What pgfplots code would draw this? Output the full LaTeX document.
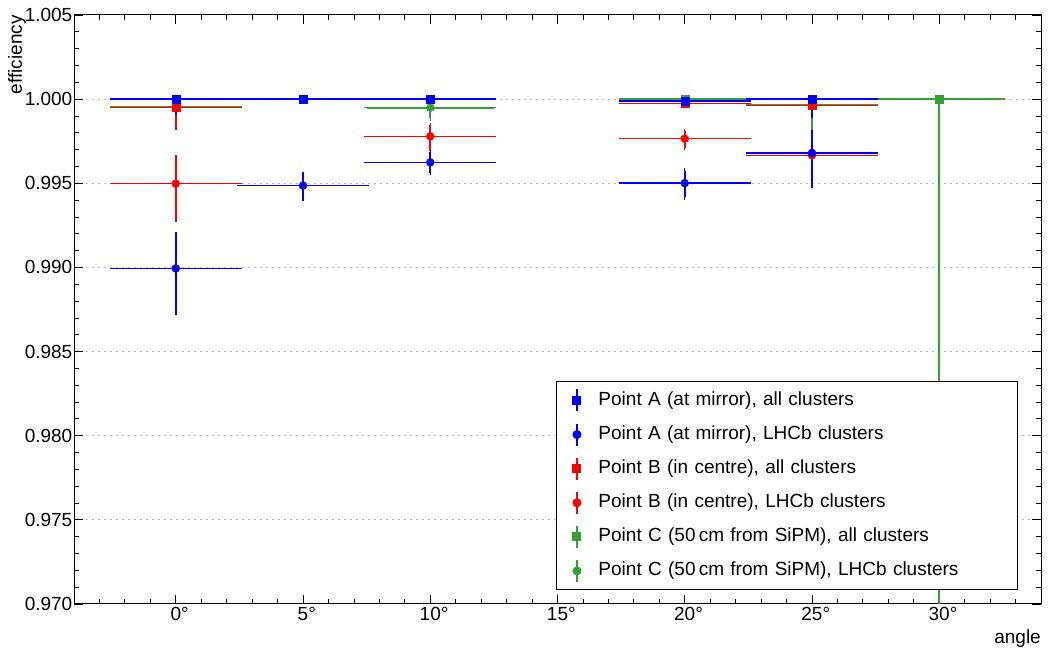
\documentclass[border=0pt]{standalone}
\usepackage{pgfplots}
\usepackage{pgfplotstable}
\pgfplotsset{compat=1.18}
\usepackage{fontspec}
\setmainfont{Liberation Sans}
\definecolor{cgreen}{RGB}{52,160,52}

\pgfplotstableread{
x y ex ep em
0 1.0000 2.5 0 0.00078
5 1.0000 2.5 0 0.00005
10 1.0000 2.5 0 0.00005
20 0.99988 2.5 0.00005 0.00008
25 1.0000 2.5 0 0.00096
}\Aall
\pgfplotstableread{
x y ex ep em
0 0.98994 2.5 0.00202 0.00260
5 0.99486 2.5 0.00069 0.00078
10 0.99624 2.5 0.00060 0.00061
20 0.99501 2.5 0.00074 0.00083
25 0.99680 2.5 0.00124 0.00193
}\Alhcb
\pgfplotstableread{
x y ex ep em
0 0.99950 2.5 0.00005 0.00119
10 1.0000 2.5 0 0.00005
20 0.99973 2.5 0.00005 0.00010
25 0.99963 2.5 0.00005 0.00010
}\Ball
\pgfplotstableread{
x y ex ep em
0 0.99498 2.5 0.00154 0.00213
10 0.99779 2.5 0.00067 0.00088
20 0.99765 2.5 0.00045 0.00053
25 0.99666 2.5 0.00079 0.00095
}\Blhcb
\pgfplotstableread{
x y ex ep em
0 0.99955 2.5 0 0.00005
10 1.0000 2.5 0 0
20 1.0000 2.5 0 0
30 1.0000 2.5 0 0.05
}\Call
\pgfplotstableread{
x y ex ep em
0 0.99950 2.5 0.00005 0.00060
10 0.99949 2.5 0.00003 0.00063
25 0.99965 2.5 0 0.00135
30 1.0000 2.5 0 0.05
}\Clhcb

\begin{document}
\begin{tikzpicture}
\begin{axis}[
  scale only axis, width=967bp, height=589bp,
  xmin=-4, xmax=34, ymin=0.970, ymax=1.005,
  font=\fontsize{19bp}{23bp}\selectfont,
  xtick={0,5,10,15,20,25,30},
  xticklabels={0\rlap{°},5\rlap{°},10\rlap{°},15\rlap{°},20\rlap{°},25\rlap{°},30\rlap{°}},
  minor xtick={-3,-2,...,33},
  ytick={0.970,0.975,0.980,0.985,0.990,0.995,1.000,1.005},
  minor y tick num=4,
  /pgf/number format/assume math mode=true,
  yticklabel style={/pgf/number format/fixed, /pgf/number format/fixed zerofill, /pgf/number format/precision=3, inner sep=0pt, xshift=-1.5bp},
  xticklabel style={inner sep=0pt, yshift=-3bp},
  scaled y ticks=false,
  major tick length=9bp, minor tick length=5bp,
  tick style={black, line width=0.8bp},
  axis line style={line width=1bp},
  ymajorgrids,
  grid style={gray!55, line width=1bp, dash pattern=on 2bp off 4bp},
  xlabel={angle}, ylabel={efficiency},
  xlabel style={at={(rel axis cs:1,0)}, anchor=north east, inner sep=0pt, yshift=-26bp},
  ylabel style={at={([xshift=-48bp]rel axis cs:0,1)}, rotate=0, anchor=south east, inner sep=0pt},
  legend style={at={(0.9762,0.0238)}, anchor=south east, draw=black, line width=1bp, fill=white,
    inner xsep=9bp, inner ysep=6.75bp, row sep=10.6bp, column sep=10bp,
    font=\fontsize{19bp}{23bp}\selectfont,
    nodes={inner sep=0pt, text width=410bp, text height=16bp, text depth=6bp}},
  legend cell align=left,
  reverse legend,
  legend image code/.code={
    \draw[line width=1.5bp,#1,mark=none] (0bp,-11bp) -- (0bp,11bp);
    \path (-11bp,0bp) (11bp,0bp);
    \draw[#1] plot coordinates {(0bp,0bp)};
  },
  errs/.style={only marks, mark size=4bp,
    error bars/.cd, x dir=both, x explicit, y dir=both, y explicit,
    error bar style={line width=1.6bp},
    error mark options={mark size=2.5bp, line width=1.5bp}},
]
\coordinate (O) at (rel axis cs:0,0);
\addplot[cgreen, mark=*, errs] table[x=x,y=y,x error=ex,y error plus=ep,y error minus=em]{\Clhcb};
\addlegendentry{Point C (50\,cm from SiPM), LHCb clusters}
\addplot[cgreen, mark=square*, errs] table[x=x,y=y,x error=ex,y error plus=ep,y error minus=em]{\Call};
\addlegendentry{Point C (50\,cm from SiPM), all clusters}
\addplot[red, mark=*, errs] table[x=x,y=y,x error=ex,y error plus=ep,y error minus=em]{\Blhcb};
\addlegendentry{Point B (in centre), LHCb clusters}
\addplot[red, mark=square*, errs] table[x=x,y=y,x error=ex,y error plus=ep,y error minus=em]{\Ball};
\addlegendentry{Point B (in centre), all clusters}
\addplot[blue, mark=*, errs] table[x=x,y=y,x error=ex,y error plus=ep,y error minus=em]{\Alhcb};
\addlegendentry{Point A (at mirror), LHCb clusters}
\addplot[blue, mark=square*, errs] table[x=x,y=y,x error=ex,y error plus=ep,y error minus=em]{\Aall};
\addlegendentry{Point A (at mirror), all clusters}
\end{axis}
\pgfresetboundingbox
\path (O) ++(-74bp,-48bp) rectangle ++(1049bp,652bp);
\end{tikzpicture}
\end{document}
